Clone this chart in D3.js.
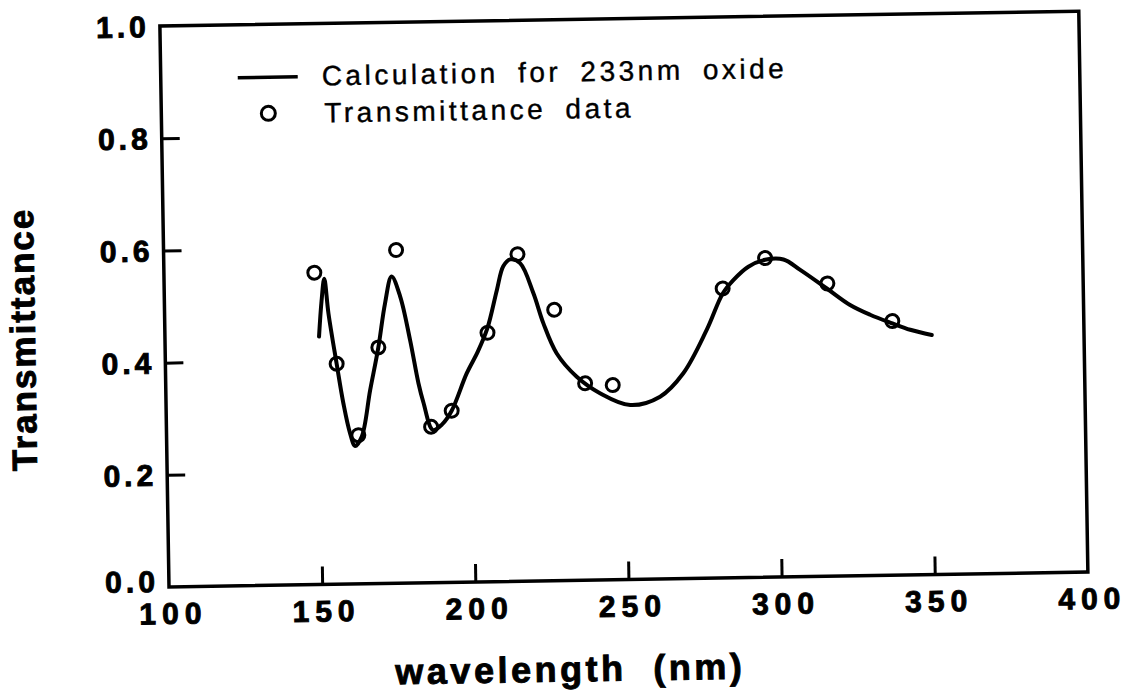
<!DOCTYPE html>
<html>
<head>
    <script src="https://cdn.jsdelivr.net/npm/d3@7"></script>
    <style>
        body { margin: 0; background: #fff; }
        svg { display: block; }
        text { font-family: "Liberation Sans", Arial, Helvetica, sans-serif; fill: #000; }
        .heavy { font-weight: bold; stroke: #000; stroke-width: 0.9px; }
    </style>
</head>
<body>
    <svg width="1128" height="694"></svg>

    <script>
        // calculated curve (233nm oxide)
        const calcWl = [150.3, 151.3, 152.3, 153.5, 155.9, 157.9, 159.9, 161.5, 163.7, 166.7,
            169.6, 172.0, 174.3, 177.0, 180.0, 182.5, 184.0, 187.0, 190.0, 193.2,
            198.3, 202.0, 205.3, 208.6, 210.8, 213.1, 216.3, 220.5, 223.6, 227.8, 234.2,
            241.7, 251.5, 261.3, 269.0, 276.9, 282.3, 285.9, 290.8, 296.3, 302.3,
            307.7, 316.3, 323.8, 330.3, 337.5, 343.3, 350.3];
        const calcT = [0.442, 0.505, 0.545, 0.483, 0.393, 0.322, 0.269, 0.246, 0.262, 0.345,
            0.421, 0.499, 0.547, 0.511, 0.433, 0.356, 0.322, 0.272, 0.282, 0.306,
            0.372, 0.410, 0.452, 0.520, 0.562, 0.574, 0.567, 0.513, 0.459, 0.405, 0.363,
            0.333, 0.311, 0.325, 0.366, 0.443, 0.507, 0.531, 0.554, 0.566, 0.566,
            0.547, 0.513, 0.483, 0.465, 0.449, 0.437, 0.427];

        // measured transmittance
        const dataWl = [149.1, 155.9, 162.6, 169.6, 175.9, 186.4, 193.2, 205.3,
            215.5, 227.2, 236.9, 245.9, 282.3, 296.3, 316.5, 337.5];
        const dataT = [0.556, 0.393, 0.265, 0.421, 0.594, 0.278, 0.306, 0.444,
            0.583, 0.483, 0.351, 0.347, 0.516, 0.569, 0.522, 0.453];

        const xTicks = [100, 150, 200, 250, 300, 350, 400];
        const yTicks = [0.0, 0.2, 0.4, 0.6, 0.8, 1.0];

        const w = 919, h = 561;

        const svg = d3.select("svg");
        svg.append("rect").attr("width", 1128).attr("height", 694).attr("fill", "#fff");

        // the scan is tilted a little, so the whole figure is turned about its bottom-left corner
        const g = svg.append("g")
            .attr("transform", "translate(169,587) rotate(-0.93) translate(0," + (-h) + ")");

        const x = d3.scaleLinear().domain([100, 400]).range([0, w]);
        const y = d3.scaleLinear().domain([0, 1]).range([h, 0]);

        // inward ticks, labels are added by hand below
        g.append("g")
            .attr("transform", "translate(0," + h + ")")
            .call(d3.axisTop(x).tickValues(xTicks.slice(1, -1)).tickSize(18).tickFormat(""))
            .call(a => a.select(".domain").remove())
            .selectAll("line").attr("stroke", "#000").attr("stroke-width", 3);

        g.append("g")
            .call(d3.axisRight(y).tickValues(yTicks.slice(1, -1)).tickSize(18).tickFormat(""))
            .call(a => a.select(".domain").remove())
            .selectAll("line").attr("stroke", "#000").attr("stroke-width", 3);

        // frame
        g.append("rect")
            .attr("width", w).attr("height", h)
            .attr("fill", "none").attr("stroke", "#000").attr("stroke-width", 3.5);

        // tick labels (0.0 sits a bit high, clear of the 100)
        g.selectAll(".ylab").data(yTicks).enter().append("text")
            .attr("class", "ylab heavy")
            .attr("x", -10)
            .attr("y", d => y(d) - (d === 0 ? 6 : 0))
            .attr("dy", "0.36em")
            .attr("text-anchor", "end")
            .style("font-size", "30px").style("letter-spacing", "4px")
            .text(d => d3.format(".1f")(d));

        g.selectAll(".xlab").data(xTicks).enter().append("text")
            .attr("class", "xlab heavy")
            .attr("x", d => x(d) + 4)
            .attr("y", h + 37)
            .attr("text-anchor", "middle")
            .style("font-size", "30px").style("letter-spacing", "6px")
            .text(d => d);

        // axis titles
        g.append("text")
            .attr("class", "heavy")
            .attr("transform", "translate(-130,311) rotate(-90)")
            .attr("text-anchor", "middle")
            .style("font-size", "35px").style("letter-spacing", "2px")
            .text("Transmittance");

        g.append("text")
            .attr("class", "heavy")
            .attr("x", 400).attr("y", h + 101)
            .attr("text-anchor", "middle")
            .style("font-size", "36px").style("letter-spacing", "3.5px")
            .style("white-space", "pre")
            .text("wavelength  (nm)");

        // curve
        const line = d3.line()
            .x((d, i) => x(calcWl[i]))
            .y((d, i) => y(calcT[i]))
            .curve(d3.curveCatmullRom.alpha(0.5));

        g.append("path")
            .datum(calcWl)
            .attr("d", line)
            .attr("fill", "none")
            .attr("stroke", "#000")
            .attr("stroke-width", 4)
            .attr("stroke-linejoin", "round")
            .attr("stroke-linecap", "round");

        // data circles
        g.selectAll(".pt").data(dataWl).enter().append("circle")
            .attr("class", "pt")
            .attr("cx", d => x(d))
            .attr("cy", (d, i) => y(dataT[i]))
            .attr("r", 6.5)
            .attr("fill", "none")
            .attr("stroke", "#000")
            .attr("stroke-width", 3);

        // legend
        const leg = g.append("g");
        leg.append("line")
            .attr("x1", 77).attr("x2", 137).attr("y1", 53).attr("y2", 53)
            .attr("stroke", "#000").attr("stroke-width", 3.5);
        leg.append("text")
            .attr("x", 161).attr("y", 62)
            .style("font-size", "28px").style("letter-spacing", "3.5px").style("word-spacing", "8px")
            .style("stroke", "#000").style("stroke-width", "0.4px")
            .text("Calculation for 233nm oxide");
        leg.append("circle")
            .attr("cx", 107).attr("cy", 89).attr("r", 7)
            .attr("fill", "none").attr("stroke", "#000").attr("stroke-width", 3);
        leg.append("text")
            .attr("x", 163).attr("y", 99)
            .style("font-size", "28px").style("letter-spacing", "3.5px").style("word-spacing", "8px")
            .style("stroke", "#000").style("stroke-width", "0.4px")
            .text("Transmittance data");
    </script>
</body>
</html>
